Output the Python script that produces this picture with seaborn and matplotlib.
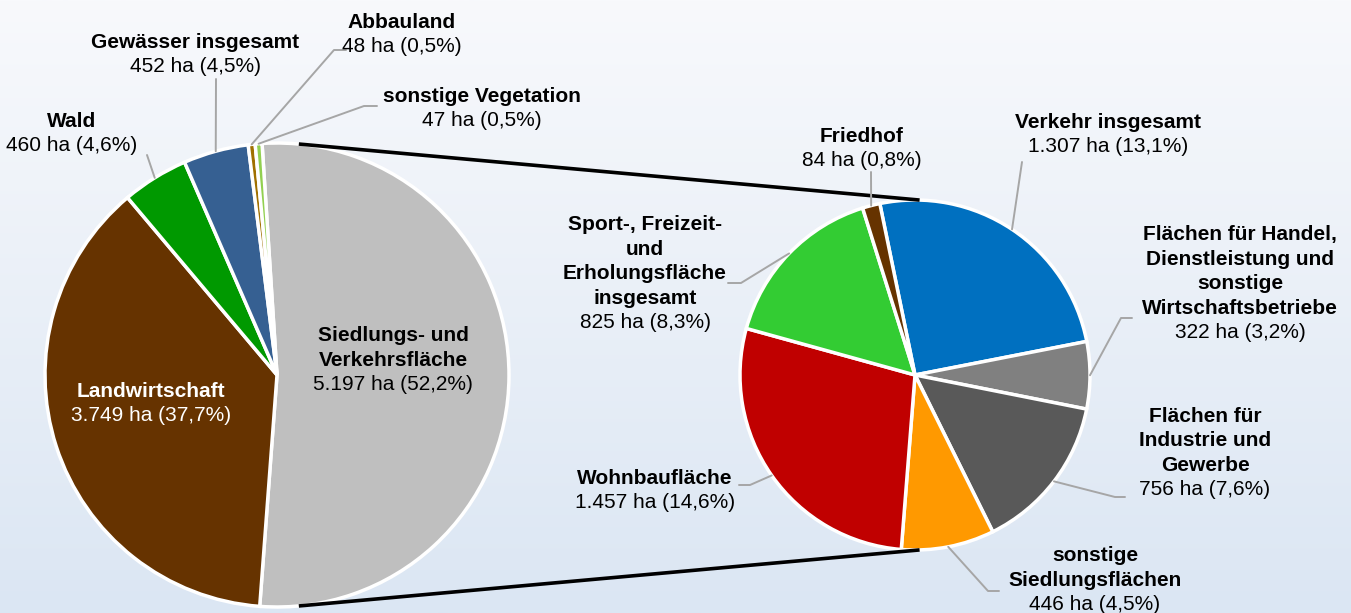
import matplotlib
matplotlib.use("Agg")
import matplotlib.pyplot as plt
import numpy as np
import seaborn as sns
from matplotlib.colors import LinearSegmentedColormap

# data
main_names = ["Siedlungs- und\nVerkehrsfläche", "Landwirtschaft", "Wald",
              "Gewässer insgesamt", "Abbauland", "sonstige Vegetation"]
main_ha = [5197, 3749, 460, 452, 48, 47]
main_colors = ["#BFBFBF", "#663300", "#009900", "#366092", "#A07000", "#92D050"]

sub_names = ["Verkehr insgesamt",
             "Flächen für Handel,\nDienstleistung und\nsonstige\nWirtschaftsbetriebe",
             "Flächen für\nIndustrie und\nGewerbe", "sonstige\nSiedlungsflächen",
             "Wohnbaufläche", "Sport-, Freizeit-\nund\nErholungsfläche\ninsgesamt",
             "Friedhof"]
sub_ha = [1307, 322, 756, 446, 1457, 825, 84]
sub_colors = ["#0070C0", "#808080", "#595959", "#FF9900", "#C00000", "#33CC33", "#663300"]

total = sum(main_ha)

sns.set_theme(style="white")
plt.rcParams["font.family"] = ["Liberation Sans", "DejaVu Sans"]

W, H = 1351, 613
fig = plt.figure(figsize=(W / 100, H / 100), dpi=100)
ax = fig.add_axes([0, 0, 1, 1])

# pie geometry (pixel units, y measured from top)
c1, r1 = (277, 375), 232
c2, r2 = (915, 375), 175
start1, start2 = 93.7, 101.6


def to_xy(p):
    return p[0], H - p[1]


def fmt(v):
    pct = f"{v / total * 100:.1f}".replace(".", ",")
    return f"{v:,}".replace(",", ".") + f" ha ({pct}%)"


wp = dict(edgecolor="white", linewidth=2.5)
ax.pie(main_ha, colors=main_colors, startangle=start1, counterclock=False,
       center=to_xy(c1), radius=r1, wedgeprops=wp, frame=True)
ax.pie(sub_ha, colors=sub_colors, startangle=start2, counterclock=False,
       center=to_xy(c2), radius=r2, wedgeprops=wp, frame=True)


def mid_angles(vals, start):
    fr = np.array(vals) / sum(vals) * 360
    ends = start - np.cumsum(fr)
    return ends + fr / 2


def edge(c, r, ang):
    a = np.deg2rad(ang)
    return c[0] + r * np.cos(a), c[1] - r * np.sin(a)


# connector lines between the pies
for s in (1, -1):
    p1 = edge(c1, r1, s * 84.6)
    p2 = edge(c2, r2, s * 88.5)
    ax.plot([p1[0], p2[0]], [H - p1[1], H - p2[1]], color="black", lw=2.6,
            solid_capstyle="butt", zorder=3)

# label layout: (x center, baseline of value line) in pixels, leader start points
main_pos = [(393, 390), (151, 421), (72, 151), (195, 72), (402, 52), (482, 126)]
main_lead = [None, None, [(147, 155)], [(216, 79)], [(346, 50), (334, 50)],
             [(377, 106), (364, 106)]]
sub_pos = [(1108, 152), (1240, 338), (1205, 495), (1095, 610), (655, 508),
           (645, 328), (862, 166)]
sub_lead = [[(1022, 162)], [(1132, 318), (1121, 318)], [(1125, 497), (1115, 497)],
            [(999, 591), (988, 591)], [(739, 485), (750, 485)],
            [(728, 283), (741, 283)], [(871, 172)]]

fs = 15
lead_col = "#A6A6A6"


def labels(names, vals, pos, leads, c, r, start, white=None):
    mids = mid_angles(vals, start)
    for i, (n, v) in enumerate(zip(names, vals)):
        x, yb = pos[i]
        col = "white" if i == white else "black"
        ax.text(x, H - yb, fmt(v), ha="center", va="baseline", fontsize=fs,
                color=col, zorder=5)
        ax.text(x, H - yb + 24, n, ha="center", va="baseline", fontsize=fs,
                fontweight="bold", color=col, linespacing=1.37,
                multialignment="center", zorder=5)
        if leads[i]:
            pts = leads[i] + [edge(c, r, mids[i])]
            ax.plot([p[0] for p in pts], [H - p[1] for p in pts], color=lead_col,
                    lw=1.4, zorder=4)


labels(main_names, main_ha, main_pos, main_lead, c1, r1, start1, white=1)
labels(sub_names, sub_ha, sub_pos, sub_lead, c2, r2, start2)

# background gradient
grad = np.linspace(0, 1, 256)[:, None]
cmap = LinearSegmentedColormap.from_list("bg", ["#F8F9FC", "#DBE6F3"])
ax.imshow(grad, extent=(0, W, 0, H), cmap=cmap, aspect="auto", zorder=0,
          origin="upper")

ax.set_xlim(0, W)
ax.set_ylim(0, H)
ax.set_aspect("auto")
ax.axis("off")

fig.savefig("out.png", dpi=100)
